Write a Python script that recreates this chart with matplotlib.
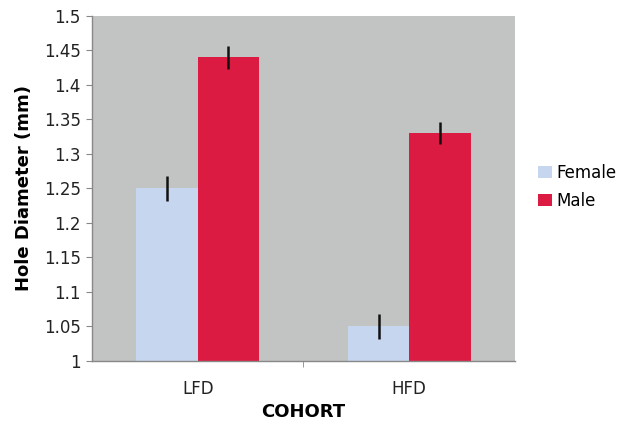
import matplotlib
matplotlib.use("Agg")
import matplotlib.pyplot as plt
import numpy as np

categories = ["LFD", "HFD"]
female = [1.25, 1.05]
male = [1.44, 1.33]
female_err = [0.018, 0.018]
male_err = [0.017, 0.016]
series_names = ["Female", "Male"]
yticks = [1, 1.05, 1.1, 1.15, 1.2, 1.25, 1.3, 1.35, 1.4, 1.45, 1.5]

fig = plt.figure(figsize=(6.27, 4.24), dpi=100)
ax = fig.add_axes([0.1467, 0.1486, 0.8214 - 0.1467, 0.9623 - 0.1486])
ax.set_facecolor("#c2c3c3")

x = np.arange(len(categories))
w = 0.29
ax.bar(x - w / 2, female, width=w, color="#c6d6ee", label=series_names[0], zorder=2)
ax.bar(x + w / 2, male, width=w, color="#dc1b42", label=series_names[1], zorder=2)
ax.errorbar(x - w / 2, female, yerr=female_err, fmt="none", ecolor="#111111",
            elinewidth=1.8, capsize=0, zorder=3)
ax.errorbar(x + w / 2, male, yerr=male_err, fmt="none", ecolor="#111111",
            elinewidth=1.8, capsize=0, zorder=3)

ax.set_xlim(-0.5, 1.5)
ax.set_ylim(1, 1.5)
ax.set_yticks(yticks)
ax.set_yticklabels([f"{t:g}" for t in yticks], fontsize=12, color="#222222")
ax.set_xticks(x)
ax.set_xticklabels(categories, fontsize=12, color="#222222")
ax.tick_params(axis="x", length=0, pad=14)
ax.set_xticks([0.5], minor=True)
ax.tick_params(axis="x", which="minor", length=4, color="#888888")
ax.tick_params(axis="y", length=4, color="#888888", pad=4)

for s in ["top", "right"]:
    ax.spines[s].set_visible(False)
for s in ["left", "bottom"]:
    ax.spines[s].set_color("#888888")
    ax.spines[s].set_linewidth(1.0)

ax.set_ylabel("Hole Diameter (mm)", fontsize=13, fontweight="bold", labelpad=8)
ax.set_xlabel("COHORT", fontsize=13, fontweight="bold", labelpad=3)

leg = ax.legend(loc="center left", bbox_to_anchor=(1.02, 0.505), frameon=False,
                fontsize=12, handlelength=0.8, handleheight=0.8, handletextpad=0.3,
                labelspacing=0.6)

fig.savefig("out.png", dpi=100)
